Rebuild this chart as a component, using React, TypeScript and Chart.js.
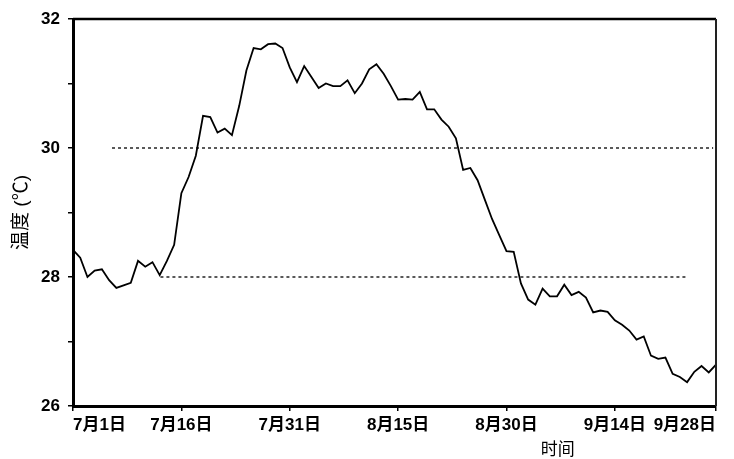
import { useEffect, useRef } from 'react';
import { Chart, registerables } from 'chart.js';

Chart.register(...registerables);

// Day index counted from 7月1日 (0) to 9月28日 (89)
const days: number[] = Array.from({ length: 90 }, (_, i) => i);
const temps: number[] = [
  28.42, 28.3, 28.0, 28.1, 28.12, 27.95, 27.83, 27.87, 27.91, 28.25,
  28.16, 28.23, 28.03, 28.25, 28.5, 29.3, 29.55, 29.88, 30.5, 30.48,
  30.24, 30.3, 30.2, 30.65, 31.2, 31.55, 31.53, 31.61, 31.62, 31.55,
  31.25, 31.02, 31.27, 31.1, 30.93, 31.0, 30.96, 30.96, 31.05, 30.85,
  31.0, 31.22, 31.3, 31.15, 30.96, 30.75, 30.76, 30.75, 30.87, 30.6,
  30.6, 30.44, 30.33, 30.15, 29.66, 29.69, 29.5, 29.2, 28.9, 28.65,
  28.4, 28.39, 27.9, 27.65, 27.57, 27.82, 27.7, 27.7, 27.88, 27.72,
  27.77, 27.68, 27.45, 27.48, 27.46, 27.33, 27.26, 27.17, 27.03, 27.08,
  26.78, 26.73, 26.75, 26.5, 26.45, 26.37, 26.53, 26.62, 26.52, 26.64,
];

const xTickDays: number[] = [0, 15, 30, 45, 60, 75, 89];
const xTickLabels: string[] = ['7月1日', '7月16日', '7月31日', '8月15日', '8月30日', '9月14日', '9月28日'];
const yTickValues: number[] = [26, 27, 28, 29, 30, 31, 32];
const yLabelValues: number[] = [26, 28, 30, 32];

// dotted reference levels
const refLevels: number[] = [30, 28];
const refStarts: number[] = [5.4, 12.1];
const refEnds: number[] = [88.6, 85];

const FONT = "'Liberation Sans', 'Noto Sans CJK SC', sans-serif";

export default function App() {
  const ref = useRef<HTMLCanvasElement | null>(null);

  useEffect(() => {
    if (!ref.current) return;

    const framePlugin = {
      id: 'frameAndTitle',
      afterDraw(chart: any) {
        const { ctx, chartArea } = chart;
        ctx.save();
        ctx.strokeStyle = '#000';
        ctx.lineWidth = 2.5;
        ctx.beginPath();
        ctx.moveTo(chartArea.left, chartArea.top);
        ctx.lineTo(chartArea.right, chartArea.top);
        ctx.stroke();
        ctx.strokeStyle = '#222';
        ctx.lineWidth = 2;
        ctx.beginPath();
        ctx.moveTo(chartArea.right, chartArea.top);
        ctx.lineTo(chartArea.right, chartArea.bottom);
        ctx.stroke();
        // x-axis title
        ctx.fillStyle = '#000';
        ctx.font = `17px ${FONT}`;
        ctx.textAlign = 'center';
        ctx.textBaseline = 'middle';
        ctx.fillText('时间', chartArea.left + (chartArea.right - chartArea.left) * 0.754, 450);
        ctx.restore();
      },
    };

    const refDatasets = refLevels.map((lvl, i) => ({
      data: [
        { x: refStarts[i], y: lvl },
        { x: refEnds[i], y: lvl },
      ],
      borderColor: '#000',
      borderWidth: 1.3,
      borderDash: [3, 3],
      pointRadius: 0,
      fill: false,
    }));

    const chart = new Chart(ref.current, {
      type: 'line',
      data: {
        datasets: [
          {
            data: days.map((d, i) => ({ x: d, y: temps[i] })),
            borderColor: '#000',
            borderWidth: 1.8,
            pointRadius: 0,
            tension: 0,
            fill: false,
          },
          ...refDatasets,
        ],
      },
      options: {
        animation: false,
        responsive: true,
        maintainAspectRatio: false,
        layout: { padding: { top: 19, right: 18, left: 0, bottom: 0 } },
        plugins: {
          legend: { display: false },
          tooltip: { enabled: false },
        },
        scales: {
          x: {
            type: 'linear',
            min: 0,
            max: 89,
            afterFit: (s: any) => {
              s.height = 53;
            },
            afterBuildTicks: (s: any) => {
              s.ticks = xTickDays.map((v) => ({ value: v }));
            },
            grid: {
              drawOnChartArea: false,
              drawTicks: true,
              tickLength: 5,
              color: '#000',
              lineWidth: 1.5,
            },
            border: { display: true, color: '#000', width: 3 },
            ticks: {
              align: 'inner',
              padding: 4,
              color: '#000',
              font: { family: FONT, size: 17, weight: 'bold' },
              maxRotation: 0,
              autoSkip: false,
              callback: (v: any) => {
                const idx = xTickDays.indexOf(Number(v));
                return idx >= 0 ? xTickLabels[idx] : '';
              },
            },
          },
          y: {
            type: 'linear',
            min: 26,
            max: 32,
            afterFit: (s: any) => {
              s.width = 73;
            },
            afterBuildTicks: (s: any) => {
              s.ticks = yTickValues.map((v) => ({ value: v }));
            },
            grid: {
              drawOnChartArea: false,
              drawTicks: true,
              tickLength: 5,
              color: '#000',
              lineWidth: 1.5,
            },
            border: { display: true, color: '#000', width: 3 },
            ticks: {
              padding: 8,
              color: '#000',
              font: { family: FONT, size: 17, weight: 'bold' },
              callback: (v: any) => (yLabelValues.includes(Number(v)) ? String(v) : ''),
            },
            title: {
              display: true,
              text: '温度 (℃)',
              color: '#000',
              font: { family: FONT, size: 19 },
              padding: { top: 10, bottom: 0 },
            },
          },
        },
      },
      plugins: [framePlugin],
    });

    return () => chart.destroy();
  }, []);

  return (
    <div style={{ position: 'fixed', left: 0, top: 0, width: 734, height: 459, background: '#fff' }}>
      <canvas ref={ref} />
    </div>
  );
}
